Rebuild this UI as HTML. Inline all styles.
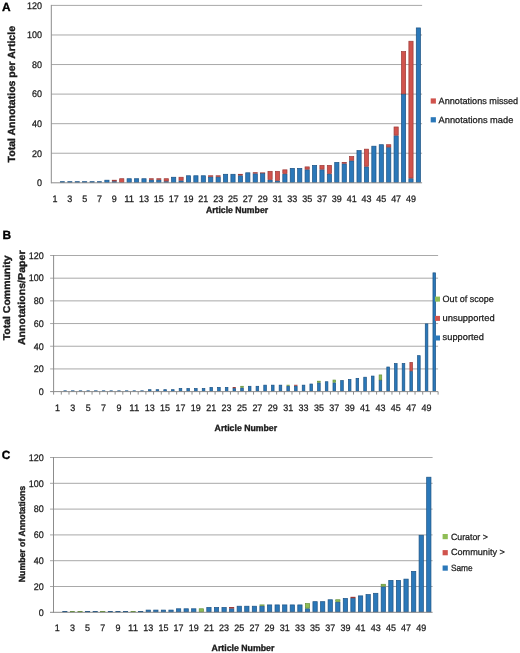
<!DOCTYPE html>
<html><head><meta charset="utf-8"><style>
html,body{margin:0;padding:0;background:#fff;}
svg{display:block;font-family:"Liberation Sans", sans-serif;text-rendering:geometricPrecision;filter:blur(0.3px);}
</style></head><body>
<svg width="520" height="653" viewBox="0 0 520 653">
<rect x="0" y="0" width="520" height="653" fill="#fff"/>
<text x="1.90" y="10.80" font-size="11.9" font-weight="bold" fill="#000" stroke="#000" stroke-width="0.35">A</text>
<rect x="51.30" y="152.73" width="370.80" height="1.00" fill="#a9a9a9"/>
<rect x="51.30" y="123.17" width="370.80" height="1.00" fill="#a9a9a9"/>
<rect x="51.30" y="93.60" width="370.80" height="1.00" fill="#a9a9a9"/>
<rect x="51.30" y="64.03" width="370.80" height="1.00" fill="#a9a9a9"/>
<rect x="51.30" y="34.47" width="370.80" height="1.00" fill="#a9a9a9"/>
<rect x="51.30" y="4.90" width="370.80" height="1.00" fill="#a9a9a9"/>
<text x="42.10" y="186.10" font-size="9.6" text-anchor="end" textLength="5.00" lengthAdjust="spacingAndGlyphs" fill="#1a1a1a" stroke="#1a1a1a" stroke-width="0.25">0</text>
<text x="42.10" y="156.53" font-size="9.6" text-anchor="end" textLength="10.00" lengthAdjust="spacingAndGlyphs" fill="#1a1a1a" stroke="#1a1a1a" stroke-width="0.25">20</text>
<text x="42.10" y="126.97" font-size="9.6" text-anchor="end" textLength="10.00" lengthAdjust="spacingAndGlyphs" fill="#1a1a1a" stroke="#1a1a1a" stroke-width="0.25">40</text>
<text x="42.10" y="97.40" font-size="9.6" text-anchor="end" textLength="10.00" lengthAdjust="spacingAndGlyphs" fill="#1a1a1a" stroke="#1a1a1a" stroke-width="0.25">60</text>
<text x="42.10" y="67.83" font-size="9.6" text-anchor="end" textLength="10.00" lengthAdjust="spacingAndGlyphs" fill="#1a1a1a" stroke="#1a1a1a" stroke-width="0.25">80</text>
<text x="42.10" y="38.27" font-size="9.6" text-anchor="end" textLength="15.00" lengthAdjust="spacingAndGlyphs" fill="#1a1a1a" stroke="#1a1a1a" stroke-width="0.25">100</text>
<text x="42.10" y="8.70" font-size="9.6" text-anchor="end" textLength="15.00" lengthAdjust="spacingAndGlyphs" fill="#1a1a1a" stroke="#1a1a1a" stroke-width="0.25">120</text>
<rect x="60.32" y="181.67" width="4.20" height="0.78" fill="#2b78b9" stroke="#1c5283" stroke-width="0.7"/>
<rect x="67.74" y="181.67" width="4.20" height="0.78" fill="#2b78b9" stroke="#1c5283" stroke-width="0.7"/>
<rect x="75.16" y="181.67" width="4.20" height="0.78" fill="#2b78b9" stroke="#1c5283" stroke-width="0.7"/>
<rect x="82.57" y="181.67" width="4.20" height="0.78" fill="#2b78b9" stroke="#1c5283" stroke-width="0.7"/>
<rect x="89.99" y="181.67" width="4.20" height="0.78" fill="#2b78b9" stroke="#1c5283" stroke-width="0.7"/>
<rect x="97.40" y="181.67" width="4.20" height="0.78" fill="#2b78b9" stroke="#1c5283" stroke-width="0.7"/>
<rect x="104.82" y="180.19" width="4.20" height="2.26" fill="#2b78b9" stroke="#1c5283" stroke-width="0.7"/>
<rect x="112.24" y="181.67" width="4.20" height="0.78" fill="#2b78b9" stroke="#1c5283" stroke-width="0.7"/>
<rect x="112.24" y="180.19" width="4.20" height="0.78" fill="#d0534d" stroke="#9c3a38" stroke-width="0.7"/>
<rect x="119.65" y="178.72" width="4.20" height="3.73" fill="#d0534d" stroke="#9c3a38" stroke-width="0.7"/>
<rect x="127.07" y="178.72" width="4.20" height="3.73" fill="#2b78b9" stroke="#1c5283" stroke-width="0.7"/>
<rect x="134.48" y="178.72" width="4.20" height="3.73" fill="#2b78b9" stroke="#1c5283" stroke-width="0.7"/>
<rect x="141.90" y="178.72" width="4.20" height="3.73" fill="#2b78b9" stroke="#1c5283" stroke-width="0.7"/>
<rect x="149.32" y="180.19" width="4.20" height="2.26" fill="#2b78b9" stroke="#1c5283" stroke-width="0.7"/>
<rect x="149.32" y="178.72" width="4.20" height="0.78" fill="#d0534d" stroke="#9c3a38" stroke-width="0.7"/>
<rect x="156.73" y="180.19" width="4.20" height="2.26" fill="#2b78b9" stroke="#1c5283" stroke-width="0.7"/>
<rect x="156.73" y="178.72" width="4.20" height="0.78" fill="#d0534d" stroke="#9c3a38" stroke-width="0.7"/>
<rect x="164.15" y="181.67" width="4.20" height="0.78" fill="#2b78b9" stroke="#1c5283" stroke-width="0.7"/>
<rect x="164.15" y="178.72" width="4.20" height="2.26" fill="#d0534d" stroke="#9c3a38" stroke-width="0.7"/>
<rect x="171.56" y="177.24" width="4.20" height="5.21" fill="#2b78b9" stroke="#1c5283" stroke-width="0.7"/>
<rect x="178.98" y="180.93" width="4.20" height="1.52" fill="#2b78b9" stroke="#1c5283" stroke-width="0.7"/>
<rect x="178.98" y="177.24" width="4.20" height="3.00" fill="#d0534d" stroke="#9c3a38" stroke-width="0.7"/>
<rect x="186.40" y="175.76" width="4.20" height="6.69" fill="#2b78b9" stroke="#1c5283" stroke-width="0.7"/>
<rect x="193.81" y="175.76" width="4.20" height="6.69" fill="#2b78b9" stroke="#1c5283" stroke-width="0.7"/>
<rect x="201.23" y="175.76" width="4.20" height="6.69" fill="#2b78b9" stroke="#1c5283" stroke-width="0.7"/>
<rect x="208.64" y="177.24" width="4.20" height="5.21" fill="#2b78b9" stroke="#1c5283" stroke-width="0.7"/>
<rect x="208.64" y="175.76" width="4.20" height="0.78" fill="#d0534d" stroke="#9c3a38" stroke-width="0.7"/>
<rect x="216.06" y="177.24" width="4.20" height="5.21" fill="#2b78b9" stroke="#1c5283" stroke-width="0.7"/>
<rect x="216.06" y="175.76" width="4.20" height="0.78" fill="#d0534d" stroke="#9c3a38" stroke-width="0.7"/>
<rect x="223.48" y="174.28" width="4.20" height="8.17" fill="#2b78b9" stroke="#1c5283" stroke-width="0.7"/>
<rect x="230.89" y="174.28" width="4.20" height="8.17" fill="#2b78b9" stroke="#1c5283" stroke-width="0.7"/>
<rect x="238.31" y="175.76" width="4.20" height="6.69" fill="#2b78b9" stroke="#1c5283" stroke-width="0.7"/>
<rect x="238.31" y="174.28" width="4.20" height="0.78" fill="#d0534d" stroke="#9c3a38" stroke-width="0.7"/>
<rect x="245.72" y="172.80" width="4.20" height="9.65" fill="#2b78b9" stroke="#1c5283" stroke-width="0.7"/>
<rect x="253.14" y="173.84" width="4.20" height="8.61" fill="#2b78b9" stroke="#1c5283" stroke-width="0.7"/>
<rect x="253.14" y="172.65" width="4.20" height="0.48" fill="#d0534d" stroke="#9c3a38" stroke-width="0.7"/>
<rect x="260.56" y="173.54" width="4.20" height="8.91" fill="#2b78b9" stroke="#1c5283" stroke-width="0.7"/>
<rect x="260.56" y="172.80" width="4.20" height="0.10" fill="#d0534d" stroke="#9c3a38" stroke-width="0.7"/>
<rect x="267.97" y="180.19" width="4.20" height="2.26" fill="#2b78b9" stroke="#1c5283" stroke-width="0.7"/>
<rect x="267.97" y="171.32" width="4.20" height="8.17" fill="#d0534d" stroke="#9c3a38" stroke-width="0.7"/>
<rect x="275.39" y="181.08" width="4.20" height="1.37" fill="#2b78b9" stroke="#1c5283" stroke-width="0.7"/>
<rect x="275.39" y="171.32" width="4.20" height="9.06" fill="#d0534d" stroke="#9c3a38" stroke-width="0.7"/>
<rect x="282.80" y="174.28" width="4.20" height="8.17" fill="#2b78b9" stroke="#1c5283" stroke-width="0.7"/>
<rect x="282.80" y="169.84" width="4.20" height="3.73" fill="#d0534d" stroke="#9c3a38" stroke-width="0.7"/>
<rect x="290.22" y="168.37" width="4.20" height="14.08" fill="#2b78b9" stroke="#1c5283" stroke-width="0.7"/>
<rect x="297.64" y="168.37" width="4.20" height="14.08" fill="#2b78b9" stroke="#1c5283" stroke-width="0.7"/>
<rect x="305.05" y="169.84" width="4.20" height="12.61" fill="#2b78b9" stroke="#1c5283" stroke-width="0.7"/>
<rect x="305.05" y="166.89" width="4.20" height="2.26" fill="#d0534d" stroke="#9c3a38" stroke-width="0.7"/>
<rect x="312.47" y="165.41" width="4.20" height="17.04" fill="#2b78b9" stroke="#1c5283" stroke-width="0.7"/>
<rect x="319.88" y="169.84" width="4.20" height="12.61" fill="#2b78b9" stroke="#1c5283" stroke-width="0.7"/>
<rect x="319.88" y="165.41" width="4.20" height="3.73" fill="#d0534d" stroke="#9c3a38" stroke-width="0.7"/>
<rect x="327.30" y="174.28" width="4.20" height="8.17" fill="#2b78b9" stroke="#1c5283" stroke-width="0.7"/>
<rect x="327.30" y="165.41" width="4.20" height="8.17" fill="#d0534d" stroke="#9c3a38" stroke-width="0.7"/>
<rect x="334.72" y="162.45" width="4.20" height="20.00" fill="#2b78b9" stroke="#1c5283" stroke-width="0.7"/>
<rect x="342.13" y="163.93" width="4.20" height="18.52" fill="#2b78b9" stroke="#1c5283" stroke-width="0.7"/>
<rect x="342.13" y="162.45" width="4.20" height="0.78" fill="#d0534d" stroke="#9c3a38" stroke-width="0.7"/>
<rect x="349.55" y="160.97" width="4.20" height="21.48" fill="#2b78b9" stroke="#1c5283" stroke-width="0.7"/>
<rect x="349.55" y="156.54" width="4.20" height="3.73" fill="#d0534d" stroke="#9c3a38" stroke-width="0.7"/>
<rect x="356.96" y="150.63" width="4.20" height="31.82" fill="#2b78b9" stroke="#1c5283" stroke-width="0.7"/>
<rect x="364.38" y="166.89" width="4.20" height="15.56" fill="#2b78b9" stroke="#1c5283" stroke-width="0.7"/>
<rect x="364.38" y="149.15" width="4.20" height="17.04" fill="#d0534d" stroke="#9c3a38" stroke-width="0.7"/>
<rect x="371.80" y="146.19" width="4.20" height="36.26" fill="#2b78b9" stroke="#1c5283" stroke-width="0.7"/>
<rect x="379.21" y="144.71" width="4.20" height="37.74" fill="#2b78b9" stroke="#1c5283" stroke-width="0.7"/>
<rect x="386.63" y="147.67" width="4.20" height="34.78" fill="#2b78b9" stroke="#1c5283" stroke-width="0.7"/>
<rect x="386.63" y="144.71" width="4.20" height="2.26" fill="#d0534d" stroke="#9c3a38" stroke-width="0.7"/>
<rect x="394.04" y="135.84" width="4.20" height="46.61" fill="#2b78b9" stroke="#1c5283" stroke-width="0.7"/>
<rect x="394.04" y="126.97" width="4.20" height="8.17" fill="#d0534d" stroke="#9c3a38" stroke-width="0.7"/>
<rect x="401.46" y="94.45" width="4.20" height="88.00" fill="#2b78b9" stroke="#1c5283" stroke-width="0.7"/>
<rect x="401.46" y="51.58" width="4.20" height="42.17" fill="#d0534d" stroke="#9c3a38" stroke-width="0.7"/>
<rect x="408.88" y="178.72" width="4.20" height="3.73" fill="#2b78b9" stroke="#1c5283" stroke-width="0.7"/>
<rect x="408.88" y="41.23" width="4.20" height="136.78" fill="#d0534d" stroke="#9c3a38" stroke-width="0.7"/>
<rect x="416.29" y="27.93" width="4.20" height="154.53" fill="#2b78b9" stroke="#1c5283" stroke-width="0.7"/>
<rect x="50.80" y="4.90" width="1.00" height="178.40" fill="#8c8c8c"/>
<rect x="51.30" y="182.30" width="370.80" height="1.00" fill="#8c8c8c"/>
<text x="55.01" y="201.70" font-size="9.4" text-anchor="middle" textLength="5.00" lengthAdjust="spacingAndGlyphs" fill="#1a1a1a" stroke="#1a1a1a" stroke-width="0.25">1</text>
<text x="69.84" y="201.70" font-size="9.4" text-anchor="middle" textLength="5.00" lengthAdjust="spacingAndGlyphs" fill="#1a1a1a" stroke="#1a1a1a" stroke-width="0.25">3</text>
<text x="84.67" y="201.70" font-size="9.4" text-anchor="middle" textLength="5.00" lengthAdjust="spacingAndGlyphs" fill="#1a1a1a" stroke="#1a1a1a" stroke-width="0.25">5</text>
<text x="99.50" y="201.70" font-size="9.4" text-anchor="middle" textLength="5.00" lengthAdjust="spacingAndGlyphs" fill="#1a1a1a" stroke="#1a1a1a" stroke-width="0.25">7</text>
<text x="114.34" y="201.70" font-size="9.4" text-anchor="middle" textLength="5.00" lengthAdjust="spacingAndGlyphs" fill="#1a1a1a" stroke="#1a1a1a" stroke-width="0.25">9</text>
<text x="129.17" y="201.70" font-size="9.4" text-anchor="middle" textLength="10.00" lengthAdjust="spacingAndGlyphs" fill="#1a1a1a" stroke="#1a1a1a" stroke-width="0.25">11</text>
<text x="144.00" y="201.70" font-size="9.4" text-anchor="middle" textLength="10.00" lengthAdjust="spacingAndGlyphs" fill="#1a1a1a" stroke="#1a1a1a" stroke-width="0.25">13</text>
<text x="158.83" y="201.70" font-size="9.4" text-anchor="middle" textLength="10.00" lengthAdjust="spacingAndGlyphs" fill="#1a1a1a" stroke="#1a1a1a" stroke-width="0.25">15</text>
<text x="173.66" y="201.70" font-size="9.4" text-anchor="middle" textLength="10.00" lengthAdjust="spacingAndGlyphs" fill="#1a1a1a" stroke="#1a1a1a" stroke-width="0.25">17</text>
<text x="188.50" y="201.70" font-size="9.4" text-anchor="middle" textLength="10.00" lengthAdjust="spacingAndGlyphs" fill="#1a1a1a" stroke="#1a1a1a" stroke-width="0.25">19</text>
<text x="203.33" y="201.70" font-size="9.4" text-anchor="middle" textLength="10.00" lengthAdjust="spacingAndGlyphs" fill="#1a1a1a" stroke="#1a1a1a" stroke-width="0.25">21</text>
<text x="218.16" y="201.70" font-size="9.4" text-anchor="middle" textLength="10.00" lengthAdjust="spacingAndGlyphs" fill="#1a1a1a" stroke="#1a1a1a" stroke-width="0.25">23</text>
<text x="232.99" y="201.70" font-size="9.4" text-anchor="middle" textLength="10.00" lengthAdjust="spacingAndGlyphs" fill="#1a1a1a" stroke="#1a1a1a" stroke-width="0.25">25</text>
<text x="247.82" y="201.70" font-size="9.4" text-anchor="middle" textLength="10.00" lengthAdjust="spacingAndGlyphs" fill="#1a1a1a" stroke="#1a1a1a" stroke-width="0.25">27</text>
<text x="262.66" y="201.70" font-size="9.4" text-anchor="middle" textLength="10.00" lengthAdjust="spacingAndGlyphs" fill="#1a1a1a" stroke="#1a1a1a" stroke-width="0.25">29</text>
<text x="277.49" y="201.70" font-size="9.4" text-anchor="middle" textLength="10.00" lengthAdjust="spacingAndGlyphs" fill="#1a1a1a" stroke="#1a1a1a" stroke-width="0.25">31</text>
<text x="292.32" y="201.70" font-size="9.4" text-anchor="middle" textLength="10.00" lengthAdjust="spacingAndGlyphs" fill="#1a1a1a" stroke="#1a1a1a" stroke-width="0.25">33</text>
<text x="307.15" y="201.70" font-size="9.4" text-anchor="middle" textLength="10.00" lengthAdjust="spacingAndGlyphs" fill="#1a1a1a" stroke="#1a1a1a" stroke-width="0.25">35</text>
<text x="321.98" y="201.70" font-size="9.4" text-anchor="middle" textLength="10.00" lengthAdjust="spacingAndGlyphs" fill="#1a1a1a" stroke="#1a1a1a" stroke-width="0.25">37</text>
<text x="336.82" y="201.70" font-size="9.4" text-anchor="middle" textLength="10.00" lengthAdjust="spacingAndGlyphs" fill="#1a1a1a" stroke="#1a1a1a" stroke-width="0.25">39</text>
<text x="351.65" y="201.70" font-size="9.4" text-anchor="middle" textLength="10.00" lengthAdjust="spacingAndGlyphs" fill="#1a1a1a" stroke="#1a1a1a" stroke-width="0.25">41</text>
<text x="366.48" y="201.70" font-size="9.4" text-anchor="middle" textLength="10.00" lengthAdjust="spacingAndGlyphs" fill="#1a1a1a" stroke="#1a1a1a" stroke-width="0.25">43</text>
<text x="381.31" y="201.70" font-size="9.4" text-anchor="middle" textLength="10.00" lengthAdjust="spacingAndGlyphs" fill="#1a1a1a" stroke="#1a1a1a" stroke-width="0.25">45</text>
<text x="396.14" y="201.70" font-size="9.4" text-anchor="middle" textLength="10.00" lengthAdjust="spacingAndGlyphs" fill="#1a1a1a" stroke="#1a1a1a" stroke-width="0.25">47</text>
<text x="410.98" y="201.70" font-size="9.4" text-anchor="middle" textLength="10.00" lengthAdjust="spacingAndGlyphs" fill="#1a1a1a" stroke="#1a1a1a" stroke-width="0.25">49</text>
<text x="205.90" y="212.50" font-size="9" font-weight="bold" textLength="62.20" lengthAdjust="spacingAndGlyphs" fill="#1a1a1a" stroke="#1a1a1a" stroke-width="0.35">Article Number</text>
<text x="15.40" y="162.40" font-size="10.3" font-weight="bold" textLength="136.40" lengthAdjust="spacingAndGlyphs" transform="rotate(-90 15.40 162.40)" fill="#1a1a1a" stroke="#1a1a1a" stroke-width="0.35">Total Annotatios per Article</text>
<rect x="430.70" y="98.40" width="5.20" height="5.20" fill="#d0534d"/>
<text x="438.60" y="104.10" font-size="9.1" textLength="79.60" lengthAdjust="spacingAndGlyphs" fill="#1a1a1a" stroke="#1a1a1a" stroke-width="0.25">Annotations missed</text>
<rect x="430.70" y="117.20" width="5.20" height="5.20" fill="#2b78b9"/>
<text x="438.60" y="122.70" font-size="9.1" textLength="74.70" lengthAdjust="spacingAndGlyphs" fill="#1a1a1a" stroke="#1a1a1a" stroke-width="0.25">Annotations made</text>
<text x="2.40" y="238.50" font-size="11.9" font-weight="bold" fill="#000" stroke="#000" stroke-width="0.35">B</text>
<rect x="50.10" y="368.42" width="388.00" height="1.00" fill="#a9a9a9"/>
<rect x="50.10" y="345.73" width="388.00" height="1.00" fill="#a9a9a9"/>
<rect x="50.10" y="323.05" width="388.00" height="1.00" fill="#a9a9a9"/>
<rect x="50.10" y="300.37" width="388.00" height="1.00" fill="#a9a9a9"/>
<rect x="50.10" y="277.68" width="388.00" height="1.00" fill="#a9a9a9"/>
<rect x="50.10" y="255.00" width="388.00" height="1.00" fill="#a9a9a9"/>
<text x="43.80" y="394.90" font-size="9.6" text-anchor="end" textLength="5.00" lengthAdjust="spacingAndGlyphs" fill="#1a1a1a" stroke="#1a1a1a" stroke-width="0.25">0</text>
<text x="43.80" y="372.22" font-size="9.6" text-anchor="end" textLength="10.00" lengthAdjust="spacingAndGlyphs" fill="#1a1a1a" stroke="#1a1a1a" stroke-width="0.25">20</text>
<text x="43.80" y="349.53" font-size="9.6" text-anchor="end" textLength="10.00" lengthAdjust="spacingAndGlyphs" fill="#1a1a1a" stroke="#1a1a1a" stroke-width="0.25">40</text>
<text x="43.80" y="326.85" font-size="9.6" text-anchor="end" textLength="10.00" lengthAdjust="spacingAndGlyphs" fill="#1a1a1a" stroke="#1a1a1a" stroke-width="0.25">60</text>
<text x="43.80" y="304.17" font-size="9.6" text-anchor="end" textLength="10.00" lengthAdjust="spacingAndGlyphs" fill="#1a1a1a" stroke="#1a1a1a" stroke-width="0.25">80</text>
<text x="43.80" y="281.48" font-size="9.6" text-anchor="end" textLength="15.00" lengthAdjust="spacingAndGlyphs" fill="#1a1a1a" stroke="#1a1a1a" stroke-width="0.25">100</text>
<text x="43.80" y="258.80" font-size="9.6" text-anchor="end" textLength="15.00" lengthAdjust="spacingAndGlyphs" fill="#1a1a1a" stroke="#1a1a1a" stroke-width="0.25">120</text>
<rect x="63.84" y="390.82" width="2.60" height="0.43" fill="#2b78b9" stroke="#1c5283" stroke-width="0.7"/>
<rect x="71.52" y="390.82" width="2.60" height="0.43" fill="#2b78b9" stroke="#1c5283" stroke-width="0.7"/>
<rect x="79.21" y="390.82" width="2.60" height="0.43" fill="#2b78b9" stroke="#1c5283" stroke-width="0.7"/>
<rect x="86.91" y="390.82" width="2.60" height="0.43" fill="#2b78b9" stroke="#1c5283" stroke-width="0.7"/>
<rect x="94.59" y="390.82" width="2.60" height="0.43" fill="#2b78b9" stroke="#1c5283" stroke-width="0.7"/>
<rect x="102.28" y="390.82" width="2.60" height="0.43" fill="#2b78b9" stroke="#1c5283" stroke-width="0.7"/>
<rect x="109.97" y="390.82" width="2.60" height="0.43" fill="#2b78b9" stroke="#1c5283" stroke-width="0.7"/>
<rect x="117.66" y="390.82" width="2.60" height="0.43" fill="#2b78b9" stroke="#1c5283" stroke-width="0.7"/>
<rect x="125.35" y="390.82" width="2.60" height="0.43" fill="#2b78b9" stroke="#1c5283" stroke-width="0.7"/>
<rect x="133.04" y="390.82" width="2.60" height="0.43" fill="#2b78b9" stroke="#1c5283" stroke-width="0.7"/>
<rect x="140.73" y="390.82" width="2.60" height="0.43" fill="#2b78b9" stroke="#1c5283" stroke-width="0.7"/>
<rect x="148.42" y="389.68" width="2.60" height="1.57" fill="#2b78b9" stroke="#1c5283" stroke-width="0.7"/>
<rect x="156.12" y="389.68" width="2.60" height="1.57" fill="#2b78b9" stroke="#1c5283" stroke-width="0.7"/>
<rect x="163.81" y="389.68" width="2.60" height="1.57" fill="#2b78b9" stroke="#1c5283" stroke-width="0.7"/>
<rect x="171.50" y="389.68" width="2.60" height="1.57" fill="#2b78b9" stroke="#1c5283" stroke-width="0.7"/>
<rect x="179.19" y="388.55" width="2.60" height="2.70" fill="#2b78b9" stroke="#1c5283" stroke-width="0.7"/>
<rect x="186.88" y="388.55" width="2.60" height="2.70" fill="#2b78b9" stroke="#1c5283" stroke-width="0.7"/>
<rect x="194.56" y="388.55" width="2.60" height="2.70" fill="#2b78b9" stroke="#1c5283" stroke-width="0.7"/>
<rect x="202.25" y="388.55" width="2.60" height="2.70" fill="#2b78b9" stroke="#1c5283" stroke-width="0.7"/>
<rect x="209.94" y="387.41" width="2.60" height="3.84" fill="#2b78b9" stroke="#1c5283" stroke-width="0.7"/>
<rect x="217.63" y="387.41" width="2.60" height="3.84" fill="#2b78b9" stroke="#1c5283" stroke-width="0.7"/>
<rect x="225.32" y="387.41" width="2.60" height="3.84" fill="#2b78b9" stroke="#1c5283" stroke-width="0.7"/>
<rect x="233.01" y="388.55" width="2.60" height="2.70" fill="#2b78b9" stroke="#1c5283" stroke-width="0.7"/>
<rect x="233.01" y="387.41" width="2.60" height="0.43" fill="#d0534d" stroke="#9c3a38" stroke-width="0.7"/>
<rect x="240.70" y="387.98" width="2.60" height="3.27" fill="#2b78b9" stroke="#1c5283" stroke-width="0.7"/>
<rect x="240.70" y="386.28" width="2.60" height="1.00" fill="#8fbd55" stroke="#64903a" stroke-width="0.7"/>
<rect x="248.39" y="386.28" width="2.60" height="4.97" fill="#2b78b9" stroke="#1c5283" stroke-width="0.7"/>
<rect x="256.08" y="386.28" width="2.60" height="4.97" fill="#2b78b9" stroke="#1c5283" stroke-width="0.7"/>
<rect x="263.78" y="385.15" width="2.60" height="6.11" fill="#2b78b9" stroke="#1c5283" stroke-width="0.7"/>
<rect x="271.47" y="385.15" width="2.60" height="6.11" fill="#2b78b9" stroke="#1c5283" stroke-width="0.7"/>
<rect x="279.16" y="385.15" width="2.60" height="6.11" fill="#2b78b9" stroke="#1c5283" stroke-width="0.7"/>
<rect x="286.85" y="386.28" width="2.60" height="4.97" fill="#2b78b9" stroke="#1c5283" stroke-width="0.7"/>
<rect x="286.85" y="385.15" width="2.60" height="0.43" fill="#8fbd55" stroke="#64903a" stroke-width="0.7"/>
<rect x="294.54" y="386.28" width="2.60" height="4.97" fill="#2b78b9" stroke="#1c5283" stroke-width="0.7"/>
<rect x="294.54" y="385.15" width="2.60" height="0.43" fill="#d0534d" stroke="#9c3a38" stroke-width="0.7"/>
<rect x="302.23" y="385.15" width="2.60" height="6.11" fill="#2b78b9" stroke="#1c5283" stroke-width="0.7"/>
<rect x="309.92" y="384.01" width="2.60" height="7.24" fill="#2b78b9" stroke="#1c5283" stroke-width="0.7"/>
<rect x="317.61" y="382.88" width="2.60" height="8.37" fill="#2b78b9" stroke="#1c5283" stroke-width="0.7"/>
<rect x="317.61" y="381.18" width="2.60" height="1.00" fill="#8fbd55" stroke="#64903a" stroke-width="0.7"/>
<rect x="325.30" y="381.74" width="2.60" height="9.51" fill="#2b78b9" stroke="#1c5283" stroke-width="0.7"/>
<rect x="332.99" y="382.88" width="2.60" height="8.37" fill="#2b78b9" stroke="#1c5283" stroke-width="0.7"/>
<rect x="332.99" y="380.04" width="2.60" height="2.14" fill="#8fbd55" stroke="#64903a" stroke-width="0.7"/>
<rect x="340.68" y="380.61" width="2.60" height="10.64" fill="#2b78b9" stroke="#1c5283" stroke-width="0.7"/>
<rect x="348.37" y="379.47" width="2.60" height="11.78" fill="#2b78b9" stroke="#1c5283" stroke-width="0.7"/>
<rect x="356.06" y="378.34" width="2.60" height="12.91" fill="#2b78b9" stroke="#1c5283" stroke-width="0.7"/>
<rect x="363.75" y="377.21" width="2.60" height="14.04" fill="#2b78b9" stroke="#1c5283" stroke-width="0.7"/>
<rect x="371.44" y="376.07" width="2.60" height="15.18" fill="#2b78b9" stroke="#1c5283" stroke-width="0.7"/>
<rect x="379.13" y="380.61" width="2.60" height="10.64" fill="#2b78b9" stroke="#1c5283" stroke-width="0.7"/>
<rect x="379.13" y="374.94" width="2.60" height="4.97" fill="#8fbd55" stroke="#64903a" stroke-width="0.7"/>
<rect x="386.82" y="367.00" width="2.60" height="24.25" fill="#2b78b9" stroke="#1c5283" stroke-width="0.7"/>
<rect x="394.51" y="363.60" width="2.60" height="27.65" fill="#2b78b9" stroke="#1c5283" stroke-width="0.7"/>
<rect x="402.20" y="363.60" width="2.60" height="27.65" fill="#2b78b9" stroke="#1c5283" stroke-width="0.7"/>
<rect x="409.89" y="371.54" width="2.60" height="19.72" fill="#2b78b9" stroke="#1c5283" stroke-width="0.7"/>
<rect x="409.89" y="362.46" width="2.60" height="8.37" fill="#d0534d" stroke="#9c3a38" stroke-width="0.7"/>
<rect x="417.58" y="355.66" width="2.60" height="35.59" fill="#2b78b9" stroke="#1c5283" stroke-width="0.7"/>
<rect x="425.27" y="323.90" width="2.60" height="67.35" fill="#2b78b9" stroke="#1c5283" stroke-width="0.7"/>
<rect x="432.96" y="272.86" width="2.60" height="118.39" fill="#2b78b9" stroke="#1c5283" stroke-width="0.7"/>
<rect x="53.10" y="255.00" width="1.00" height="137.10" fill="#8c8c8c"/>
<rect x="50.10" y="391.10" width="388.00" height="1.00" fill="#8c8c8c"/>
<rect x="53.10" y="391.60" width="1.00" height="3.00" fill="#8c8c8c"/>
<rect x="60.79" y="391.60" width="1.00" height="3.00" fill="#8c8c8c"/>
<rect x="68.48" y="391.60" width="1.00" height="3.00" fill="#8c8c8c"/>
<rect x="76.17" y="391.60" width="1.00" height="3.00" fill="#8c8c8c"/>
<rect x="83.86" y="391.60" width="1.00" height="3.00" fill="#8c8c8c"/>
<rect x="91.55" y="391.60" width="1.00" height="3.00" fill="#8c8c8c"/>
<rect x="99.24" y="391.60" width="1.00" height="3.00" fill="#8c8c8c"/>
<rect x="106.93" y="391.60" width="1.00" height="3.00" fill="#8c8c8c"/>
<rect x="114.62" y="391.60" width="1.00" height="3.00" fill="#8c8c8c"/>
<rect x="122.31" y="391.60" width="1.00" height="3.00" fill="#8c8c8c"/>
<rect x="130.00" y="391.60" width="1.00" height="3.00" fill="#8c8c8c"/>
<rect x="137.69" y="391.60" width="1.00" height="3.00" fill="#8c8c8c"/>
<rect x="145.38" y="391.60" width="1.00" height="3.00" fill="#8c8c8c"/>
<rect x="153.07" y="391.60" width="1.00" height="3.00" fill="#8c8c8c"/>
<rect x="160.76" y="391.60" width="1.00" height="3.00" fill="#8c8c8c"/>
<rect x="168.45" y="391.60" width="1.00" height="3.00" fill="#8c8c8c"/>
<rect x="176.14" y="391.60" width="1.00" height="3.00" fill="#8c8c8c"/>
<rect x="183.83" y="391.60" width="1.00" height="3.00" fill="#8c8c8c"/>
<rect x="191.52" y="391.60" width="1.00" height="3.00" fill="#8c8c8c"/>
<rect x="199.21" y="391.60" width="1.00" height="3.00" fill="#8c8c8c"/>
<rect x="206.90" y="391.60" width="1.00" height="3.00" fill="#8c8c8c"/>
<rect x="214.59" y="391.60" width="1.00" height="3.00" fill="#8c8c8c"/>
<rect x="222.28" y="391.60" width="1.00" height="3.00" fill="#8c8c8c"/>
<rect x="229.97" y="391.60" width="1.00" height="3.00" fill="#8c8c8c"/>
<rect x="237.66" y="391.60" width="1.00" height="3.00" fill="#8c8c8c"/>
<rect x="245.35" y="391.60" width="1.00" height="3.00" fill="#8c8c8c"/>
<rect x="253.04" y="391.60" width="1.00" height="3.00" fill="#8c8c8c"/>
<rect x="260.73" y="391.60" width="1.00" height="3.00" fill="#8c8c8c"/>
<rect x="268.42" y="391.60" width="1.00" height="3.00" fill="#8c8c8c"/>
<rect x="276.11" y="391.60" width="1.00" height="3.00" fill="#8c8c8c"/>
<rect x="283.80" y="391.60" width="1.00" height="3.00" fill="#8c8c8c"/>
<rect x="291.49" y="391.60" width="1.00" height="3.00" fill="#8c8c8c"/>
<rect x="299.18" y="391.60" width="1.00" height="3.00" fill="#8c8c8c"/>
<rect x="306.87" y="391.60" width="1.00" height="3.00" fill="#8c8c8c"/>
<rect x="314.56" y="391.60" width="1.00" height="3.00" fill="#8c8c8c"/>
<rect x="322.25" y="391.60" width="1.00" height="3.00" fill="#8c8c8c"/>
<rect x="329.94" y="391.60" width="1.00" height="3.00" fill="#8c8c8c"/>
<rect x="337.63" y="391.60" width="1.00" height="3.00" fill="#8c8c8c"/>
<rect x="345.32" y="391.60" width="1.00" height="3.00" fill="#8c8c8c"/>
<rect x="353.01" y="391.60" width="1.00" height="3.00" fill="#8c8c8c"/>
<rect x="360.70" y="391.60" width="1.00" height="3.00" fill="#8c8c8c"/>
<rect x="368.39" y="391.60" width="1.00" height="3.00" fill="#8c8c8c"/>
<rect x="376.08" y="391.60" width="1.00" height="3.00" fill="#8c8c8c"/>
<rect x="383.77" y="391.60" width="1.00" height="3.00" fill="#8c8c8c"/>
<rect x="391.46" y="391.60" width="1.00" height="3.00" fill="#8c8c8c"/>
<rect x="399.15" y="391.60" width="1.00" height="3.00" fill="#8c8c8c"/>
<rect x="406.84" y="391.60" width="1.00" height="3.00" fill="#8c8c8c"/>
<rect x="414.53" y="391.60" width="1.00" height="3.00" fill="#8c8c8c"/>
<rect x="422.22" y="391.60" width="1.00" height="3.00" fill="#8c8c8c"/>
<rect x="429.91" y="391.60" width="1.00" height="3.00" fill="#8c8c8c"/>
<rect x="437.60" y="391.60" width="1.00" height="3.00" fill="#8c8c8c"/>
<text x="57.45" y="410.50" font-size="9.4" text-anchor="middle" textLength="5.00" lengthAdjust="spacingAndGlyphs" fill="#1a1a1a" stroke="#1a1a1a" stroke-width="0.25">1</text>
<text x="72.83" y="410.50" font-size="9.4" text-anchor="middle" textLength="5.00" lengthAdjust="spacingAndGlyphs" fill="#1a1a1a" stroke="#1a1a1a" stroke-width="0.25">3</text>
<text x="88.21" y="410.50" font-size="9.4" text-anchor="middle" textLength="5.00" lengthAdjust="spacingAndGlyphs" fill="#1a1a1a" stroke="#1a1a1a" stroke-width="0.25">5</text>
<text x="103.59" y="410.50" font-size="9.4" text-anchor="middle" textLength="5.00" lengthAdjust="spacingAndGlyphs" fill="#1a1a1a" stroke="#1a1a1a" stroke-width="0.25">7</text>
<text x="118.97" y="410.50" font-size="9.4" text-anchor="middle" textLength="5.00" lengthAdjust="spacingAndGlyphs" fill="#1a1a1a" stroke="#1a1a1a" stroke-width="0.25">9</text>
<text x="134.34" y="410.50" font-size="9.4" text-anchor="middle" textLength="10.00" lengthAdjust="spacingAndGlyphs" fill="#1a1a1a" stroke="#1a1a1a" stroke-width="0.25">11</text>
<text x="149.72" y="410.50" font-size="9.4" text-anchor="middle" textLength="10.00" lengthAdjust="spacingAndGlyphs" fill="#1a1a1a" stroke="#1a1a1a" stroke-width="0.25">13</text>
<text x="165.11" y="410.50" font-size="9.4" text-anchor="middle" textLength="10.00" lengthAdjust="spacingAndGlyphs" fill="#1a1a1a" stroke="#1a1a1a" stroke-width="0.25">15</text>
<text x="180.49" y="410.50" font-size="9.4" text-anchor="middle" textLength="10.00" lengthAdjust="spacingAndGlyphs" fill="#1a1a1a" stroke="#1a1a1a" stroke-width="0.25">17</text>
<text x="195.87" y="410.50" font-size="9.4" text-anchor="middle" textLength="10.00" lengthAdjust="spacingAndGlyphs" fill="#1a1a1a" stroke="#1a1a1a" stroke-width="0.25">19</text>
<text x="211.25" y="410.50" font-size="9.4" text-anchor="middle" textLength="10.00" lengthAdjust="spacingAndGlyphs" fill="#1a1a1a" stroke="#1a1a1a" stroke-width="0.25">21</text>
<text x="226.62" y="410.50" font-size="9.4" text-anchor="middle" textLength="10.00" lengthAdjust="spacingAndGlyphs" fill="#1a1a1a" stroke="#1a1a1a" stroke-width="0.25">23</text>
<text x="242.00" y="410.50" font-size="9.4" text-anchor="middle" textLength="10.00" lengthAdjust="spacingAndGlyphs" fill="#1a1a1a" stroke="#1a1a1a" stroke-width="0.25">25</text>
<text x="257.38" y="410.50" font-size="9.4" text-anchor="middle" textLength="10.00" lengthAdjust="spacingAndGlyphs" fill="#1a1a1a" stroke="#1a1a1a" stroke-width="0.25">27</text>
<text x="272.77" y="410.50" font-size="9.4" text-anchor="middle" textLength="10.00" lengthAdjust="spacingAndGlyphs" fill="#1a1a1a" stroke="#1a1a1a" stroke-width="0.25">29</text>
<text x="288.15" y="410.50" font-size="9.4" text-anchor="middle" textLength="10.00" lengthAdjust="spacingAndGlyphs" fill="#1a1a1a" stroke="#1a1a1a" stroke-width="0.25">31</text>
<text x="303.53" y="410.50" font-size="9.4" text-anchor="middle" textLength="10.00" lengthAdjust="spacingAndGlyphs" fill="#1a1a1a" stroke="#1a1a1a" stroke-width="0.25">33</text>
<text x="318.91" y="410.50" font-size="9.4" text-anchor="middle" textLength="10.00" lengthAdjust="spacingAndGlyphs" fill="#1a1a1a" stroke="#1a1a1a" stroke-width="0.25">35</text>
<text x="334.29" y="410.50" font-size="9.4" text-anchor="middle" textLength="10.00" lengthAdjust="spacingAndGlyphs" fill="#1a1a1a" stroke="#1a1a1a" stroke-width="0.25">37</text>
<text x="349.67" y="410.50" font-size="9.4" text-anchor="middle" textLength="10.00" lengthAdjust="spacingAndGlyphs" fill="#1a1a1a" stroke="#1a1a1a" stroke-width="0.25">39</text>
<text x="365.05" y="410.50" font-size="9.4" text-anchor="middle" textLength="10.00" lengthAdjust="spacingAndGlyphs" fill="#1a1a1a" stroke="#1a1a1a" stroke-width="0.25">41</text>
<text x="380.43" y="410.50" font-size="9.4" text-anchor="middle" textLength="10.00" lengthAdjust="spacingAndGlyphs" fill="#1a1a1a" stroke="#1a1a1a" stroke-width="0.25">43</text>
<text x="395.81" y="410.50" font-size="9.4" text-anchor="middle" textLength="10.00" lengthAdjust="spacingAndGlyphs" fill="#1a1a1a" stroke="#1a1a1a" stroke-width="0.25">45</text>
<text x="411.19" y="410.50" font-size="9.4" text-anchor="middle" textLength="10.00" lengthAdjust="spacingAndGlyphs" fill="#1a1a1a" stroke="#1a1a1a" stroke-width="0.25">47</text>
<text x="426.57" y="410.50" font-size="9.4" text-anchor="middle" textLength="10.00" lengthAdjust="spacingAndGlyphs" fill="#1a1a1a" stroke="#1a1a1a" stroke-width="0.25">49</text>
<text x="214.60" y="430.60" font-size="9" font-weight="bold" textLength="62.50" lengthAdjust="spacingAndGlyphs" fill="#1a1a1a" stroke="#1a1a1a" stroke-width="0.35">Article Number</text>
<text x="9.80" y="340.30" font-size="9.9" font-weight="bold" textLength="84.80" lengthAdjust="spacingAndGlyphs" transform="rotate(-90 9.80 340.30)" fill="#1a1a1a" stroke="#1a1a1a" stroke-width="0.35">Total Community</text>
<text x="24.70" y="345.10" font-size="10.0" font-weight="bold" textLength="94.80" lengthAdjust="spacingAndGlyphs" transform="rotate(-90 24.70 345.10)" fill="#1a1a1a" stroke="#1a1a1a" stroke-width="0.35">Annotations/Paper</text>
<rect x="435.00" y="296.60" width="5.00" height="5.00" fill="#8fbd55"/>
<text x="442.60" y="301.60" font-size="9.1" textLength="51.20" lengthAdjust="spacingAndGlyphs" fill="#1a1a1a" stroke="#1a1a1a" stroke-width="0.25">Out of scope</text>
<rect x="435.00" y="315.90" width="5.00" height="5.00" fill="#d0534d"/>
<text x="442.60" y="320.80" font-size="9.1" textLength="52.00" lengthAdjust="spacingAndGlyphs" fill="#1a1a1a" stroke="#1a1a1a" stroke-width="0.25">unsupported</text>
<rect x="435.00" y="335.50" width="5.00" height="5.00" fill="#2b78b9"/>
<text x="442.60" y="340.10" font-size="9.1" textLength="41.30" lengthAdjust="spacingAndGlyphs" fill="#1a1a1a" stroke="#1a1a1a" stroke-width="0.25">supported</text>
<text x="1.70" y="459.00" font-size="11.9" font-weight="bold" fill="#000" stroke="#000" stroke-width="0.35">C</text>
<rect x="50.00" y="586.00" width="382.60" height="1.00" fill="#a9a9a9"/>
<rect x="50.00" y="560.20" width="382.60" height="1.00" fill="#a9a9a9"/>
<rect x="50.00" y="534.40" width="382.60" height="1.00" fill="#a9a9a9"/>
<rect x="50.00" y="508.60" width="382.60" height="1.00" fill="#a9a9a9"/>
<rect x="50.00" y="482.80" width="382.60" height="1.00" fill="#a9a9a9"/>
<rect x="50.00" y="457.00" width="382.60" height="1.00" fill="#a9a9a9"/>
<text x="43.80" y="615.60" font-size="9.6" text-anchor="end" textLength="5.00" lengthAdjust="spacingAndGlyphs" fill="#1a1a1a" stroke="#1a1a1a" stroke-width="0.25">0</text>
<text x="43.80" y="589.80" font-size="9.6" text-anchor="end" textLength="10.00" lengthAdjust="spacingAndGlyphs" fill="#1a1a1a" stroke="#1a1a1a" stroke-width="0.25">20</text>
<text x="43.80" y="564.00" font-size="9.6" text-anchor="end" textLength="10.00" lengthAdjust="spacingAndGlyphs" fill="#1a1a1a" stroke="#1a1a1a" stroke-width="0.25">40</text>
<text x="43.80" y="538.20" font-size="9.6" text-anchor="end" textLength="10.00" lengthAdjust="spacingAndGlyphs" fill="#1a1a1a" stroke="#1a1a1a" stroke-width="0.25">60</text>
<text x="43.80" y="512.40" font-size="9.6" text-anchor="end" textLength="10.00" lengthAdjust="spacingAndGlyphs" fill="#1a1a1a" stroke="#1a1a1a" stroke-width="0.25">80</text>
<text x="43.80" y="486.60" font-size="9.6" text-anchor="end" textLength="15.00" lengthAdjust="spacingAndGlyphs" fill="#1a1a1a" stroke="#1a1a1a" stroke-width="0.25">100</text>
<text x="43.80" y="460.80" font-size="9.6" text-anchor="end" textLength="15.00" lengthAdjust="spacingAndGlyphs" fill="#1a1a1a" stroke="#1a1a1a" stroke-width="0.25">120</text>
<rect x="62.72" y="611.36" width="4.30" height="0.59" fill="#2b78b9" stroke="#1c5283" stroke-width="0.7"/>
<rect x="70.30" y="611.36" width="4.30" height="0.59" fill="#8fbd55" stroke="#64903a" stroke-width="0.7"/>
<rect x="77.89" y="611.36" width="4.30" height="0.59" fill="#8fbd55" stroke="#64903a" stroke-width="0.7"/>
<rect x="85.47" y="611.36" width="4.30" height="0.59" fill="#2b78b9" stroke="#1c5283" stroke-width="0.7"/>
<rect x="93.05" y="611.36" width="4.30" height="0.59" fill="#2b78b9" stroke="#1c5283" stroke-width="0.7"/>
<rect x="100.63" y="611.36" width="4.30" height="0.59" fill="#8fbd55" stroke="#64903a" stroke-width="0.7"/>
<rect x="108.22" y="611.36" width="4.30" height="0.59" fill="#2b78b9" stroke="#1c5283" stroke-width="0.7"/>
<rect x="115.80" y="611.36" width="4.30" height="0.59" fill="#2b78b9" stroke="#1c5283" stroke-width="0.7"/>
<rect x="123.38" y="611.36" width="4.30" height="0.59" fill="#2b78b9" stroke="#1c5283" stroke-width="0.7"/>
<rect x="130.96" y="611.36" width="4.30" height="0.59" fill="#8fbd55" stroke="#64903a" stroke-width="0.7"/>
<rect x="138.54" y="611.36" width="4.30" height="0.59" fill="#2b78b9" stroke="#1c5283" stroke-width="0.7"/>
<rect x="146.12" y="610.07" width="4.30" height="1.88" fill="#2b78b9" stroke="#1c5283" stroke-width="0.7"/>
<rect x="153.71" y="610.07" width="4.30" height="1.88" fill="#2b78b9" stroke="#1c5283" stroke-width="0.7"/>
<rect x="161.29" y="610.07" width="4.30" height="1.88" fill="#2b78b9" stroke="#1c5283" stroke-width="0.7"/>
<rect x="168.87" y="610.07" width="4.30" height="1.88" fill="#2b78b9" stroke="#1c5283" stroke-width="0.7"/>
<rect x="176.45" y="608.78" width="4.30" height="3.17" fill="#2b78b9" stroke="#1c5283" stroke-width="0.7"/>
<rect x="184.03" y="608.78" width="4.30" height="3.17" fill="#2b78b9" stroke="#1c5283" stroke-width="0.7"/>
<rect x="191.62" y="608.78" width="4.30" height="3.17" fill="#2b78b9" stroke="#1c5283" stroke-width="0.7"/>
<rect x="199.20" y="608.78" width="4.30" height="3.17" fill="#8fbd55" stroke="#64903a" stroke-width="0.7"/>
<rect x="206.78" y="607.49" width="4.30" height="4.46" fill="#2b78b9" stroke="#1c5283" stroke-width="0.7"/>
<rect x="214.36" y="607.49" width="4.30" height="4.46" fill="#2b78b9" stroke="#1c5283" stroke-width="0.7"/>
<rect x="221.95" y="607.49" width="4.30" height="4.46" fill="#2b78b9" stroke="#1c5283" stroke-width="0.7"/>
<rect x="229.53" y="608.78" width="4.30" height="3.17" fill="#2b78b9" stroke="#1c5283" stroke-width="0.7"/>
<rect x="229.53" y="607.49" width="4.30" height="0.59" fill="#d0534d" stroke="#9c3a38" stroke-width="0.7"/>
<rect x="237.11" y="606.20" width="4.30" height="5.75" fill="#2b78b9" stroke="#1c5283" stroke-width="0.7"/>
<rect x="244.69" y="606.20" width="4.30" height="5.75" fill="#2b78b9" stroke="#1c5283" stroke-width="0.7"/>
<rect x="252.27" y="606.20" width="4.30" height="5.75" fill="#2b78b9" stroke="#1c5283" stroke-width="0.7"/>
<rect x="259.86" y="606.20" width="4.30" height="5.75" fill="#2b78b9" stroke="#1c5283" stroke-width="0.7"/>
<rect x="259.86" y="604.91" width="4.30" height="0.59" fill="#8fbd55" stroke="#64903a" stroke-width="0.7"/>
<rect x="267.44" y="604.91" width="4.30" height="7.04" fill="#2b78b9" stroke="#1c5283" stroke-width="0.7"/>
<rect x="275.02" y="604.91" width="4.30" height="7.04" fill="#2b78b9" stroke="#1c5283" stroke-width="0.7"/>
<rect x="282.60" y="604.91" width="4.30" height="7.04" fill="#2b78b9" stroke="#1c5283" stroke-width="0.7"/>
<rect x="290.18" y="604.91" width="4.30" height="7.04" fill="#2b78b9" stroke="#1c5283" stroke-width="0.7"/>
<rect x="297.77" y="604.91" width="4.30" height="7.04" fill="#2b78b9" stroke="#1c5283" stroke-width="0.7"/>
<rect x="305.35" y="608.78" width="4.30" height="3.17" fill="#2b78b9" stroke="#1c5283" stroke-width="0.7"/>
<rect x="305.35" y="603.62" width="4.30" height="4.46" fill="#8fbd55" stroke="#64903a" stroke-width="0.7"/>
<rect x="312.93" y="601.68" width="4.30" height="10.26" fill="#2b78b9" stroke="#1c5283" stroke-width="0.7"/>
<rect x="320.51" y="601.68" width="4.30" height="10.26" fill="#2b78b9" stroke="#1c5283" stroke-width="0.7"/>
<rect x="328.09" y="599.75" width="4.30" height="12.20" fill="#2b78b9" stroke="#1c5283" stroke-width="0.7"/>
<rect x="335.68" y="602.33" width="4.30" height="9.62" fill="#2b78b9" stroke="#1c5283" stroke-width="0.7"/>
<rect x="335.68" y="599.75" width="4.30" height="1.88" fill="#8fbd55" stroke="#64903a" stroke-width="0.7"/>
<rect x="343.26" y="598.46" width="4.30" height="13.49" fill="#2b78b9" stroke="#1c5283" stroke-width="0.7"/>
<rect x="350.84" y="598.46" width="4.30" height="13.49" fill="#2b78b9" stroke="#1c5283" stroke-width="0.7"/>
<rect x="350.84" y="597.17" width="4.30" height="0.59" fill="#d0534d" stroke="#9c3a38" stroke-width="0.7"/>
<rect x="358.42" y="595.88" width="4.30" height="16.07" fill="#2b78b9" stroke="#1c5283" stroke-width="0.7"/>
<rect x="366.00" y="594.59" width="4.30" height="17.36" fill="#2b78b9" stroke="#1c5283" stroke-width="0.7"/>
<rect x="373.59" y="593.30" width="4.30" height="18.65" fill="#2b78b9" stroke="#1c5283" stroke-width="0.7"/>
<rect x="381.17" y="586.85" width="4.30" height="25.10" fill="#2b78b9" stroke="#1c5283" stroke-width="0.7"/>
<rect x="381.17" y="584.27" width="4.30" height="1.88" fill="#8fbd55" stroke="#64903a" stroke-width="0.7"/>
<rect x="388.75" y="580.40" width="4.30" height="31.55" fill="#2b78b9" stroke="#1c5283" stroke-width="0.7"/>
<rect x="396.33" y="580.40" width="4.30" height="31.55" fill="#2b78b9" stroke="#1c5283" stroke-width="0.7"/>
<rect x="403.91" y="579.11" width="4.30" height="32.84" fill="#2b78b9" stroke="#1c5283" stroke-width="0.7"/>
<rect x="411.50" y="571.37" width="4.30" height="40.58" fill="#2b78b9" stroke="#1c5283" stroke-width="0.7"/>
<rect x="419.08" y="535.25" width="4.30" height="76.70" fill="#2b78b9" stroke="#1c5283" stroke-width="0.7"/>
<rect x="426.66" y="477.20" width="4.30" height="134.75" fill="#2b78b9" stroke="#1c5283" stroke-width="0.7"/>
<rect x="53.00" y="457.00" width="1.00" height="155.80" fill="#8c8c8c"/>
<rect x="50.00" y="611.80" width="382.60" height="1.00" fill="#8c8c8c"/>
<text x="57.29" y="631.30" font-size="9.4" text-anchor="middle" textLength="5.00" lengthAdjust="spacingAndGlyphs" fill="#1a1a1a" stroke="#1a1a1a" stroke-width="0.25">1</text>
<text x="72.45" y="631.30" font-size="9.4" text-anchor="middle" textLength="5.00" lengthAdjust="spacingAndGlyphs" fill="#1a1a1a" stroke="#1a1a1a" stroke-width="0.25">3</text>
<text x="87.62" y="631.30" font-size="9.4" text-anchor="middle" textLength="5.00" lengthAdjust="spacingAndGlyphs" fill="#1a1a1a" stroke="#1a1a1a" stroke-width="0.25">5</text>
<text x="102.78" y="631.30" font-size="9.4" text-anchor="middle" textLength="5.00" lengthAdjust="spacingAndGlyphs" fill="#1a1a1a" stroke="#1a1a1a" stroke-width="0.25">7</text>
<text x="117.95" y="631.30" font-size="9.4" text-anchor="middle" textLength="5.00" lengthAdjust="spacingAndGlyphs" fill="#1a1a1a" stroke="#1a1a1a" stroke-width="0.25">9</text>
<text x="133.11" y="631.30" font-size="9.4" text-anchor="middle" textLength="10.00" lengthAdjust="spacingAndGlyphs" fill="#1a1a1a" stroke="#1a1a1a" stroke-width="0.25">11</text>
<text x="148.28" y="631.30" font-size="9.4" text-anchor="middle" textLength="10.00" lengthAdjust="spacingAndGlyphs" fill="#1a1a1a" stroke="#1a1a1a" stroke-width="0.25">13</text>
<text x="163.44" y="631.30" font-size="9.4" text-anchor="middle" textLength="10.00" lengthAdjust="spacingAndGlyphs" fill="#1a1a1a" stroke="#1a1a1a" stroke-width="0.25">15</text>
<text x="178.60" y="631.30" font-size="9.4" text-anchor="middle" textLength="10.00" lengthAdjust="spacingAndGlyphs" fill="#1a1a1a" stroke="#1a1a1a" stroke-width="0.25">17</text>
<text x="193.77" y="631.30" font-size="9.4" text-anchor="middle" textLength="10.00" lengthAdjust="spacingAndGlyphs" fill="#1a1a1a" stroke="#1a1a1a" stroke-width="0.25">19</text>
<text x="208.93" y="631.30" font-size="9.4" text-anchor="middle" textLength="10.00" lengthAdjust="spacingAndGlyphs" fill="#1a1a1a" stroke="#1a1a1a" stroke-width="0.25">21</text>
<text x="224.10" y="631.30" font-size="9.4" text-anchor="middle" textLength="10.00" lengthAdjust="spacingAndGlyphs" fill="#1a1a1a" stroke="#1a1a1a" stroke-width="0.25">23</text>
<text x="239.26" y="631.30" font-size="9.4" text-anchor="middle" textLength="10.00" lengthAdjust="spacingAndGlyphs" fill="#1a1a1a" stroke="#1a1a1a" stroke-width="0.25">25</text>
<text x="254.42" y="631.30" font-size="9.4" text-anchor="middle" textLength="10.00" lengthAdjust="spacingAndGlyphs" fill="#1a1a1a" stroke="#1a1a1a" stroke-width="0.25">27</text>
<text x="269.59" y="631.30" font-size="9.4" text-anchor="middle" textLength="10.00" lengthAdjust="spacingAndGlyphs" fill="#1a1a1a" stroke="#1a1a1a" stroke-width="0.25">29</text>
<text x="284.75" y="631.30" font-size="9.4" text-anchor="middle" textLength="10.00" lengthAdjust="spacingAndGlyphs" fill="#1a1a1a" stroke="#1a1a1a" stroke-width="0.25">31</text>
<text x="299.92" y="631.30" font-size="9.4" text-anchor="middle" textLength="10.00" lengthAdjust="spacingAndGlyphs" fill="#1a1a1a" stroke="#1a1a1a" stroke-width="0.25">33</text>
<text x="315.08" y="631.30" font-size="9.4" text-anchor="middle" textLength="10.00" lengthAdjust="spacingAndGlyphs" fill="#1a1a1a" stroke="#1a1a1a" stroke-width="0.25">35</text>
<text x="330.24" y="631.30" font-size="9.4" text-anchor="middle" textLength="10.00" lengthAdjust="spacingAndGlyphs" fill="#1a1a1a" stroke="#1a1a1a" stroke-width="0.25">37</text>
<text x="345.41" y="631.30" font-size="9.4" text-anchor="middle" textLength="10.00" lengthAdjust="spacingAndGlyphs" fill="#1a1a1a" stroke="#1a1a1a" stroke-width="0.25">39</text>
<text x="360.57" y="631.30" font-size="9.4" text-anchor="middle" textLength="10.00" lengthAdjust="spacingAndGlyphs" fill="#1a1a1a" stroke="#1a1a1a" stroke-width="0.25">41</text>
<text x="375.74" y="631.30" font-size="9.4" text-anchor="middle" textLength="10.00" lengthAdjust="spacingAndGlyphs" fill="#1a1a1a" stroke="#1a1a1a" stroke-width="0.25">43</text>
<text x="390.90" y="631.30" font-size="9.4" text-anchor="middle" textLength="10.00" lengthAdjust="spacingAndGlyphs" fill="#1a1a1a" stroke="#1a1a1a" stroke-width="0.25">45</text>
<text x="406.06" y="631.30" font-size="9.4" text-anchor="middle" textLength="10.00" lengthAdjust="spacingAndGlyphs" fill="#1a1a1a" stroke="#1a1a1a" stroke-width="0.25">47</text>
<text x="421.23" y="631.30" font-size="9.4" text-anchor="middle" textLength="10.00" lengthAdjust="spacingAndGlyphs" fill="#1a1a1a" stroke="#1a1a1a" stroke-width="0.25">49</text>
<text x="211.60" y="651.20" font-size="9" font-weight="bold" textLength="62.70" lengthAdjust="spacingAndGlyphs" fill="#1a1a1a" stroke="#1a1a1a" stroke-width="0.35">Article Number</text>
<text x="24.90" y="582.20" font-size="8.9" font-weight="bold" textLength="96.40" lengthAdjust="spacingAndGlyphs" transform="rotate(-90 24.90 582.20)" fill="#1a1a1a" stroke="#1a1a1a" stroke-width="0.35">Number of Annotations</text>
<rect x="442.60" y="534.00" width="5.20" height="5.20" fill="#8fbd55"/>
<text x="450.90" y="539.50" font-size="9.0" textLength="37.00" lengthAdjust="spacingAndGlyphs" fill="#1a1a1a" stroke="#1a1a1a" stroke-width="0.25">Curator &gt;</text>
<rect x="442.60" y="550.10" width="5.20" height="5.20" fill="#d0534d"/>
<text x="450.90" y="555.00" font-size="9.0" textLength="54.00" lengthAdjust="spacingAndGlyphs" fill="#1a1a1a" stroke="#1a1a1a" stroke-width="0.25">Community &gt;</text>
<rect x="442.60" y="565.50" width="5.20" height="5.20" fill="#2b78b9"/>
<text x="450.90" y="570.60" font-size="9.0" textLength="21.80" lengthAdjust="spacingAndGlyphs" fill="#1a1a1a" stroke="#1a1a1a" stroke-width="0.25">Same</text>
</svg>
</body></html>
